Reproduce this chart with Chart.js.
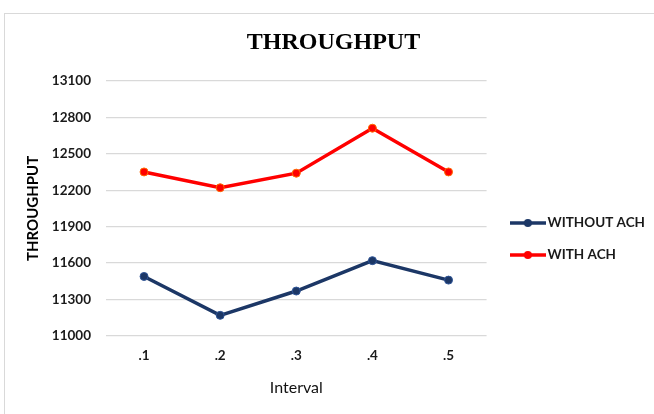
<!DOCTYPE html>
<html>
<head>
<meta charset="utf-8">
<script src="https://cdn.jsdelivr.net/npm/chart.js@4/dist/chart.umd.min.js"></script>
<style>
  html, body { margin: 0; padding: 0; background: #ffffff; overflow: hidden; width: 654px; height: 414px; }
  #frame { position: absolute; left: 4px; top: 13px; width: 700px; height: 500px;
           border-top: 1px solid #d9d9d9; border-left: 1px solid #d9d9d9; }
  #c { position: absolute; left: 5px; top: 14px; }
</style>
</head>
<body>
<div id="frame"></div>
<canvas id="c" width="650" height="400"></canvas>
<script>
// ---- data ----
const categories = ['.1', '.2', '.3', '.4', '.5'];
const withoutAch = [11490, 11170, 11370, 11620, 11460];
const withAch = [12350, 12220, 12340, 12710, 12350];
const seriesNames = ['WITHOUT ACH', 'WITH ACH'];
const yTicks = { min: 11000, max: 13100, step: 300 };

const NAVY = '#1c3766';
const RED = '#ff0000';
const HUM = "Lato, 'Open Sans', sans-serif";
const SERIF = "'Liberation Serif', 'Times New Roman', serif";

function legendGlyph(color) {
  const cv = document.createElement('canvas');
  cv.width = 36; cv.height = 12;
  const g = cv.getContext('2d');
  g.strokeStyle = color; g.lineWidth = 3.5;
  g.beginPath(); g.moveTo(0, 6); g.lineTo(36, 6); g.stroke();
  g.fillStyle = color;
  g.beginPath(); g.arc(18, 6, 4, 0, Math.PI * 2); g.fill();
  return cv;
}

new Chart(document.getElementById('c'), {
  type: 'line',
  data: {
    labels: categories,
    datasets: [
      { label: seriesNames[0], data: withoutAch, borderColor: NAVY, backgroundColor: NAVY,
        pointBackgroundColor: NAVY, pointBorderColor: '#2f5597', pointRadius: 4, pointBorderWidth: 1,
        borderWidth: 3.5, tension: 0, pointStyle: 'circle', yAxisID: 'y' },
      { label: seriesNames[1], data: withAch, borderColor: RED, backgroundColor: RED,
        pointBackgroundColor: RED, pointBorderColor: '#ff6a00', pointRadius: 4, pointBorderWidth: 1,
        borderWidth: 3.5, tension: 0, pointStyle: 'circle', yAxisID: 'y' }
    ]
  },
  options: {
    responsive: false,
    animation: false,
    devicePixelRatio: 1,
    layout: { padding: { left: 7, right: 0, top: 0, bottom: 0 } },
    plugins: {
      title: {
        display: true, text: 'THROUGHPUT', color: '#000000',
        font: { family: SERIF, size: 24, weight: 'bold' },
        padding: { top: 14, bottom: 24 }
      },
      legend: {
        position: 'right',
        align: 'center',
        maxWidth: 220,
        title: { display: true, text: ' ', font: { size: 10, lineHeight: 1 }, padding: { top: 40, bottom: 0 } },
        labels: {
          usePointStyle: true,
          pointStyleWidth: 26,
          padding: 18.5,
          color: '#1a1a1a',
          font: { family: HUM, size: 13.5, weight: 'bold' },
          generateLabels: (chart) => chart.data.datasets.map((ds, i) => ({
            text: ds.label,
            fillStyle: ds.borderColor,
            strokeStyle: ds.borderColor,
            fontColor: '#1a1a1a',
            lineWidth: 0,
            pointStyle: legendGlyph(ds.borderColor),
            hidden: !chart.isDatasetVisible(i),
            datasetIndex: i
          }))
        }
      },
      tooltip: { enabled: false }
    },
    scales: {
      x: {
        offset: true,
        grid: { display: false, drawTicks: false },
        border: { display: false },
        ticks: { color: '#1a1a1a', padding: 12, font: { family: HUM, size: 13.5, weight: 'bold' } },
        title: { display: true, text: 'Interval', color: '#111111',
                 font: { family: HUM, size: 16 }, padding: { top: 10, bottom: 17 } },
        afterFit: (s) => { s.height = 78; }
      },
      y: {
        min: yTicks.min, max: yTicks.max,
        grid: { color: '#d9d9d9', lineWidth: 1.3, drawTicks: false },
        border: { display: false },
        ticks: { stepSize: yTicks.step, color: '#1a1a1a', padding: 15,
                 font: { family: HUM, size: 13.5, weight: 'bold' },
                 callback: (v) => String(v) },
        title: { display: true, text: 'THROUGHPUT', color: '#000000',
                 font: { family: HUM, size: 15, weight: 'bold' }, padding: { top: 12.5, bottom: 0 } },
        afterFit: (s) => { s.width = 94; }
      },
      yGap: {
        type: 'linear', position: 'right', display: true,
        grid: { display: false, drawTicks: false },
        border: { display: false },
        ticks: { display: false },
        afterFit: (s) => { s.width = 9.75; }
      }
    }
  }
});
</script>
</body>
</html>
